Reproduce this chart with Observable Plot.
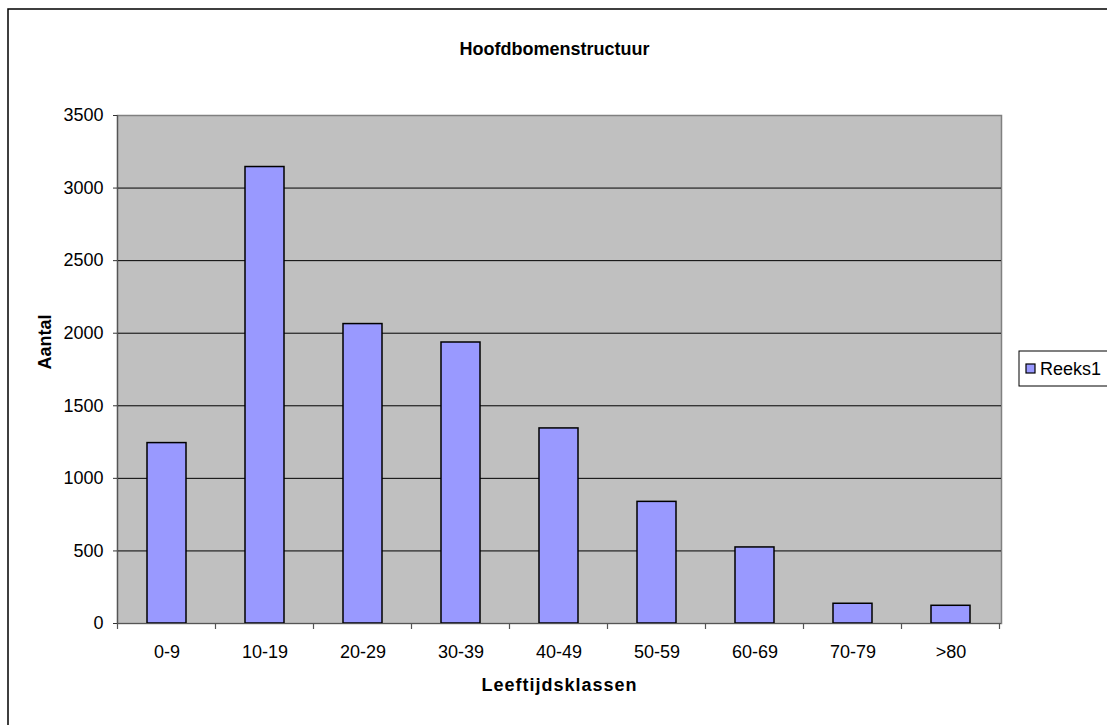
<!DOCTYPE html>
<html>
<head>
<meta charset="utf-8">
<script src="https://cdn.jsdelivr.net/npm/d3@7"></script>
<script src="https://cdn.jsdelivr.net/npm/@observablehq/plot@0.6"></script>
<style>
  html, body { margin: 0; padding: 0; background: white; }
  svg { display: block; }
</style>
</head>
<body>
<div id="chart"></div>
<script>
const categories = ["0-9", "10-19", "20-29", "30-39", "40-49", "50-59", "60-69", "70-79", ">80"];
const values = [1243, 3145, 2063, 1936, 1344, 838, 524, 136, 122];
const yTicks = [0, 500, 1000, 1500, 2000, 2500, 3000, 3500];
const seriesName = "Reeks1";
const title = "Hoofdbomenstructuur";
const xTitle = "Leeftijdsklassen";
const yTitle = "Aantal";

const data = categories.map((c, i) => ({cat: c, val: values[i]}));
const font = "'Liberation Sans', Arial, Helvetica, sans-serif";
const barFill = "#9999FF";

const chart = Plot.plot({
  width: 1107,
  height: 725,
  marginLeft: 117,
  marginRight: 106,
  marginTop: 115,
  marginBottom: 102,
  style: {fontFamily: font, fontSize: "18px", background: "white", color: "black", overflow: "visible"},
  x: {domain: categories, paddingInner: 0.6, paddingOuter: 0.3, label: null},
  y: {domain: [0, 3500], label: null},
  marks: [
    Plot.frame({fill: "#C0C0C0", stroke: "#808080", strokeWidth: 1.5}),
    Plot.ruleY(yTicks.slice(1, -1), {stroke: "#000", strokeWidth: 1}),
    Plot.barY(data, {x: "cat", y: "val", fill: barFill, stroke: "#000", strokeWidth: 1.5}),
    Plot.ruleY([0], {stroke: "#555", strokeWidth: 1.2}),
    Plot.frame({anchor: "left", stroke: "#555", strokeWidth: 1.2}),
    Plot.axisY({ticks: yTicks, tickFormat: d => String(d), tickSize: 4, tickPadding: 10, label: null, fontSize: 18, stroke: "#333"}),
    Plot.axisX({tickSize: 0, tickPadding: 22, label: null, fontSize: 18}),
    Plot.text([title], {frameAnchor: "top", dy: -73, dx: -5, fontWeight: "bold", fontSize: 18, fill: "black"}),
    Plot.text([yTitle], {frameAnchor: "left", dx: -72, rotate: -90, fontWeight: "bold", fontSize: 18, fill: "black"}),
    Plot.text([xTitle], {frameAnchor: "bottom", dy: 67, fontWeight: "bold", fontSize: 18, fill: "black"})
  ]
});

document.getElementById("chart").appendChild(chart);

const svg = d3.select(chart);
svg.selectAll("text").filter(function() { return this.textContent === xTitle; })
  .attr("letter-spacing", "1px");

// outer chart-area border
svg.insert("rect", ":first-child")
  .attr("x", 8).attr("y", 9).attr("width", 1120).attr("height", 740)
  .attr("fill", "none").attr("stroke", "#000").attr("stroke-width", 1.5);

// category boundary ticks from the band scale
const xs = chart.scale("x");
const ys = chart.scale("y");
const y0 = ys.apply(0);
const bounds = categories.map(c => xs.apply(c) + xs.bandwidth / 2 - xs.step / 2);
bounds.push(xs.apply(categories[categories.length - 1]) + xs.bandwidth / 2 + xs.step / 2);
svg.append("g").selectAll("line").data(bounds).join("line")
  .attr("x1", d => d).attr("x2", d => d)
  .attr("y1", y0).attr("y2", y0 + 6)
  .attr("stroke", "#555").attr("stroke-width", 1.2);

// legend
const lg = svg.append("g");
lg.append("rect").attr("x", 1019).attr("y", 351).attr("width", 110).attr("height", 35)
  .attr("fill", "white").attr("stroke", "#000").attr("stroke-width", 1);
lg.append("rect").attr("x", 1026).attr("y", 364).attr("width", 9).attr("height", 9)
  .attr("fill", barFill).attr("stroke", "#000").attr("stroke-width", 1.2);
lg.append("text").attr("x", 1040).attr("y", 375).text(seriesName)
  .attr("text-anchor", "start")
  .attr("font-family", font).attr("font-size", 18).attr("fill", "black");
</script>
</body>
</html>
